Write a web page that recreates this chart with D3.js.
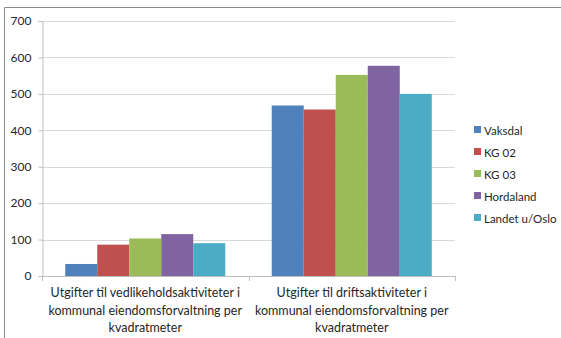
<!DOCTYPE html>
<html>
<head>
<meta charset="utf-8">
<script src="https://cdn.jsdelivr.net/npm/d3@7"></script>
<style>
  html, body { margin: 0; padding: 0; background: #fff; }
  svg { display: block; font-family: Lato, "Liberation Sans", sans-serif; }
</style>
</head>
<body>
<svg id="chart" width="561" height="338"></svg>
<script>
const categories = [
    ['Utgifter til vedlikeholdsaktiviteter i', 'kommunal eiendomsforvaltning per', 'kvadratmeter'],
    ['Utgifter til driftsaktiviteter i', 'kommunal eiendomsforvaltning per', 'kvadratmeter']
];
const seriesNames = ['Vaksdal', 'KG 02', 'KG 03', 'Hordaland', 'Landet u/Oslo'];
const seriesColors = ['#4f81bd', '#c0504d', '#9bbb59', '#8064a2', '#4bacc6'];
const vaksdal = [33, 468];
const kg02 = [86, 457];
const kg03 = [103, 552];
const hordaland = [115, 577];
const landet = [90, 500];
const seriesValues = [vaksdal, kg02, kg03, hordaland, landet];
const yTicks = [0, 100, 200, 300, 400, 500, 600, 700];

const FONT = 'Lato, "Liberation Sans", sans-serif';
const svg = d3.select('#chart');
const margin = { left: 42, right: 455, top: 21, bottom: 276 };

// outer frame (only top and left edges are in view)
svg.append('path')
    .attr('d', 'M4.5,338 L4.5,7.5 L561,7.5')
    .attr('fill', 'none')
    .attr('stroke', '#8c8c8c')
    .attr('stroke-width', 1);

const x0 = d3.scaleBand()
    .domain(d3.range(categories.length))
    .range([margin.left, margin.right])
    .paddingInner(0.225)
    .paddingOuter(0.1125);

const x1 = d3.scaleBand()
    .domain(d3.range(seriesNames.length))
    .range([0, x0.bandwidth()]);

const y = d3.scaleLinear()
    .domain([0, 700])
    .range([margin.bottom, margin.top]);

// gridlines
svg.append('g')
    .selectAll('line')
    .data(yTicks.filter(d => d > 0))
    .join('line')
    .attr('x1', margin.left)
    .attr('x2', margin.right)
    .attr('y1', d => Math.round(y(d)) + 0.5)
    .attr('y2', d => Math.round(y(d)) + 0.5)
    .attr('stroke', '#d9d9d9');

// bars
const groups = svg.append('g')
    .selectAll('g')
    .data(categories.map((c, i) => i))
    .join('g')
    .attr('transform', i => `translate(${x0(i)},0)`);

groups.selectAll('rect')
    .data(i => seriesValues.map((vals, s) => ({ s, v: vals[i] })))
    .join('rect')
    .attr('x', d => x1(d.s))
    .attr('width', x1.bandwidth())
    .attr('y', d => y(d.v))
    .attr('height', d => y(0) - y(d.v))
    .attr('fill', d => seriesColors[d.s]);

// y axis
const yAxis = svg.append('g')
    .attr('transform', `translate(${margin.left + 0.5},0)`)
    .call(d3.axisLeft(y).tickValues(yTicks).tickSize(4).tickPadding(7));
yAxis.select('.domain').attr('stroke', '#bfbfbf');
yAxis.selectAll('.tick line').attr('stroke', '#bfbfbf');
yAxis.selectAll('.tick text')
    .attr('font-size', 12)
    .attr('fill', '#262626')
    .style('font-family', FONT);

// x axis line with category boundary ticks
const boundaries = [margin.left, (margin.left + margin.right) / 2, margin.right];
svg.append('line')
    .attr('x1', margin.left)
    .attr('x2', margin.right)
    .attr('y1', y(0) + 0.5)
    .attr('y2', y(0) + 0.5)
    .attr('stroke', '#bfbfbf');
svg.append('g')
    .selectAll('line')
    .data(boundaries)
    .join('line')
    .attr('x1', d => Math.round(d) + 0.5)
    .attr('x2', d => Math.round(d) + 0.5)
    .attr('y1', y(0))
    .attr('y2', y(0) + 5)
    .attr('stroke', '#bfbfbf');

// category labels
const labels = svg.append('g')
    .selectAll('text')
    .data(categories)
    .join('text')
    .attr('x', (c, i) => x0(i) + x0.bandwidth() / 2)
    .attr('y', 297)
    .attr('text-anchor', 'middle')
    .attr('font-size', 12.5)
    .attr('fill', '#262626');
labels.selectAll('tspan')
    .data(c => c)
    .join('tspan')
    .attr('x', function () { return this.parentNode.getAttribute('x'); })
    .attr('dy', (d, i) => i === 0 ? 0 : 17.5)
    .text(d => d);

// legend
const legend = svg.append('g')
    .selectAll('g')
    .data(seriesNames)
    .join('g')
    .attr('transform', (d, i) => `translate(474,${130 + i * 22})`);
legend.append('rect')
    .attr('x', 0)
    .attr('y', -4)
    .attr('width', 7)
    .attr('height', 7)
    .attr('fill', (d, i) => seriesColors[i]);
legend.append('text')
    .attr('x', 10)
    .attr('y', 4.5)
    .attr('font-size', 11.5)
    .attr('fill', '#262626')
    .text(d => d);
</script>
</body>
</html>
